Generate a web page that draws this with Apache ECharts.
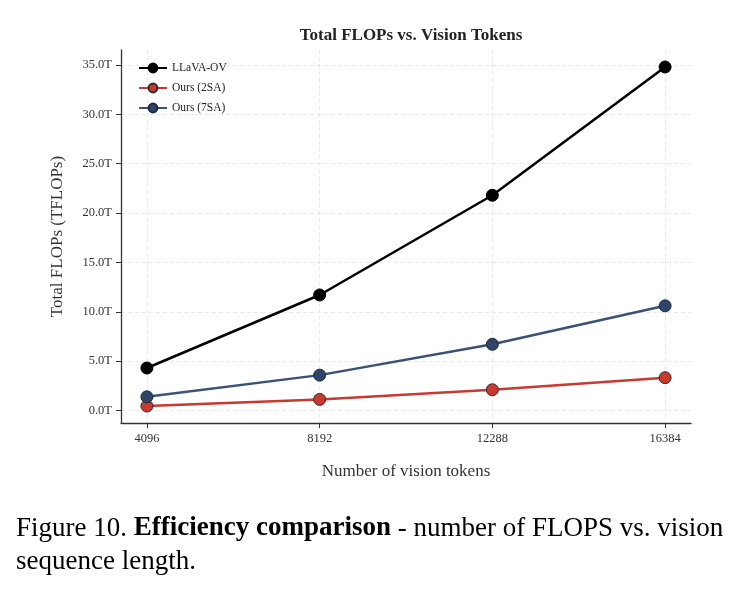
<!DOCTYPE html>
<html>
<head>
<meta charset="utf-8">
<script src="https://cdn.jsdelivr.net/npm/echarts@6/dist/echarts.min.js"></script>
<style>
  html, body { margin: 0; padding: 0; background: #fff; }
  #chart { width: 740px; height: 590px; }
</style>
</head>
<body>
<div id="chart"></div>
<script>
// data
const visionTokens = [4096, 8192, 12288, 16384]
const llavaOv = [4.3, 11.7, 21.8, 34.8]
const ours2SA = [0.45, 1.12, 2.1, 3.32]
const ours7SA = [1.38, 3.58, 6.7, 10.6]
const yTicks = [0, 5, 10, 15, 20, 25, 30, 35]

const seriesNames = ['LLaVA-OV', 'Ours (2SA)', 'Ours (7SA)']
const serif = '"Liberation Serif", "DejaVu Serif", serif'

const chart = echarts.init(document.getElementById('chart'))

const makeSeries = (name, values, lineColor, fill, edge) => ({
  name: name,
  type: 'line',
  data: visionTokens.map((x, i) => [x, values[i]]),
  symbol: 'circle',
  symbolSize: 12,
  lineStyle: { color: lineColor, width: 2.5 },
  itemStyle: { color: fill, borderColor: edge, borderWidth: 1 },
  emphasis: { disabled: true },
  z: 3
})

const option = {
  animation: false,
  backgroundColor: '#fff',
  title: {
    text: 'Total FLOPs vs. Vision Tokens',
    left: 406,
    textAlign: 'center',
    top: 22,
    textStyle: { fontFamily: serif, fontSize: 17, fontWeight: 'bold', color: '#222' }
  },
  legend: {
    data: seriesNames,
    orient: 'vertical',
    left: 133,
    top: 57,
    itemWidth: 28,
    itemHeight: 11,
    itemGap: 8,
    textStyle: { fontFamily: serif, fontSize: 11.5, color: '#222' }
  },
  grid: { left: 121, right: 49, top: 50, bottom: 167, containLabel: false },
  xAxis: {
    type: 'value',
    min: 3481.6,
    max: 16998.4,
    name: 'Number of vision tokens',
    nameLocation: 'middle',
    nameGap: 40,
    nameTextStyle: { fontFamily: serif, fontSize: 17, color: '#333' },
    axisLine: { onZero: false, lineStyle: { color: '#333', width: 1.3 } },
    axisTick: { show: true, customValues: visionTokens, length: 5, lineStyle: { color: '#333' } },
    axisLabel: {
      customValues: visionTokens,
      fontFamily: serif,
      fontSize: 12.5,
      color: '#333',
      margin: 9,
      formatter: (v) => String(v)
    },
    splitLine: { show: true, lineStyle: { color: '#e3e3e3', type: [4, 3], width: 0.8 } }
  },
  yAxis: {
    type: 'value',
    min: -1.27,
    max: 36.52,
    name: 'Total FLOPs (TFLOPs)',
    nameLocation: 'middle',
    nameGap: 55,
    nameTextStyle: { fontFamily: serif, fontSize: 17, color: '#333' },
    axisLine: { show: true, onZero: false, lineStyle: { color: '#333', width: 1.3 } },
    axisTick: { show: true, customValues: yTicks, length: 5, lineStyle: { color: '#333' } },
    axisLabel: {
      customValues: yTicks,
      fontFamily: serif,
      fontSize: 12.5,
      color: '#333',
      margin: 9,
      formatter: (v) => v.toFixed(1) + 'T'
    },
    splitLine: { show: true, lineStyle: { color: '#e3e3e3', type: [4, 3], width: 0.8 } }
  },
  series: [
    makeSeries(seriesNames[0], llavaOv, '#000000', '#000000', '#000000'),
    makeSeries(seriesNames[1], ours2SA, '#c8392f', '#c8392f', '#3a2a2a'),
    makeSeries(seriesNames[2], ours7SA, '#3a5078', '#2f4468', '#1e2a3a')
  ],
  graphic: [
    {
      type: 'text',
      left: 16,
      top: 515,
      style: {
        rich: {
          n: { fontFamily: serif, fontSize: 27, fill: '#000' },
          b: { fontFamily: serif, fontSize: 27, fontWeight: 'bold', fill: '#000' }
        },
        text: '{n|Figure 10. }{b|Efficiency comparison}{n| - number of FLOPS vs. vision}'
      }
    },
    {
      type: 'text',
      left: 16,
      top: 548,
      style: { text: 'sequence length.', fontFamily: serif, fontSize: 27, fill: '#000' }
    }
  ]
}

chart.setOption(option)
</script>
</body>
</html>
